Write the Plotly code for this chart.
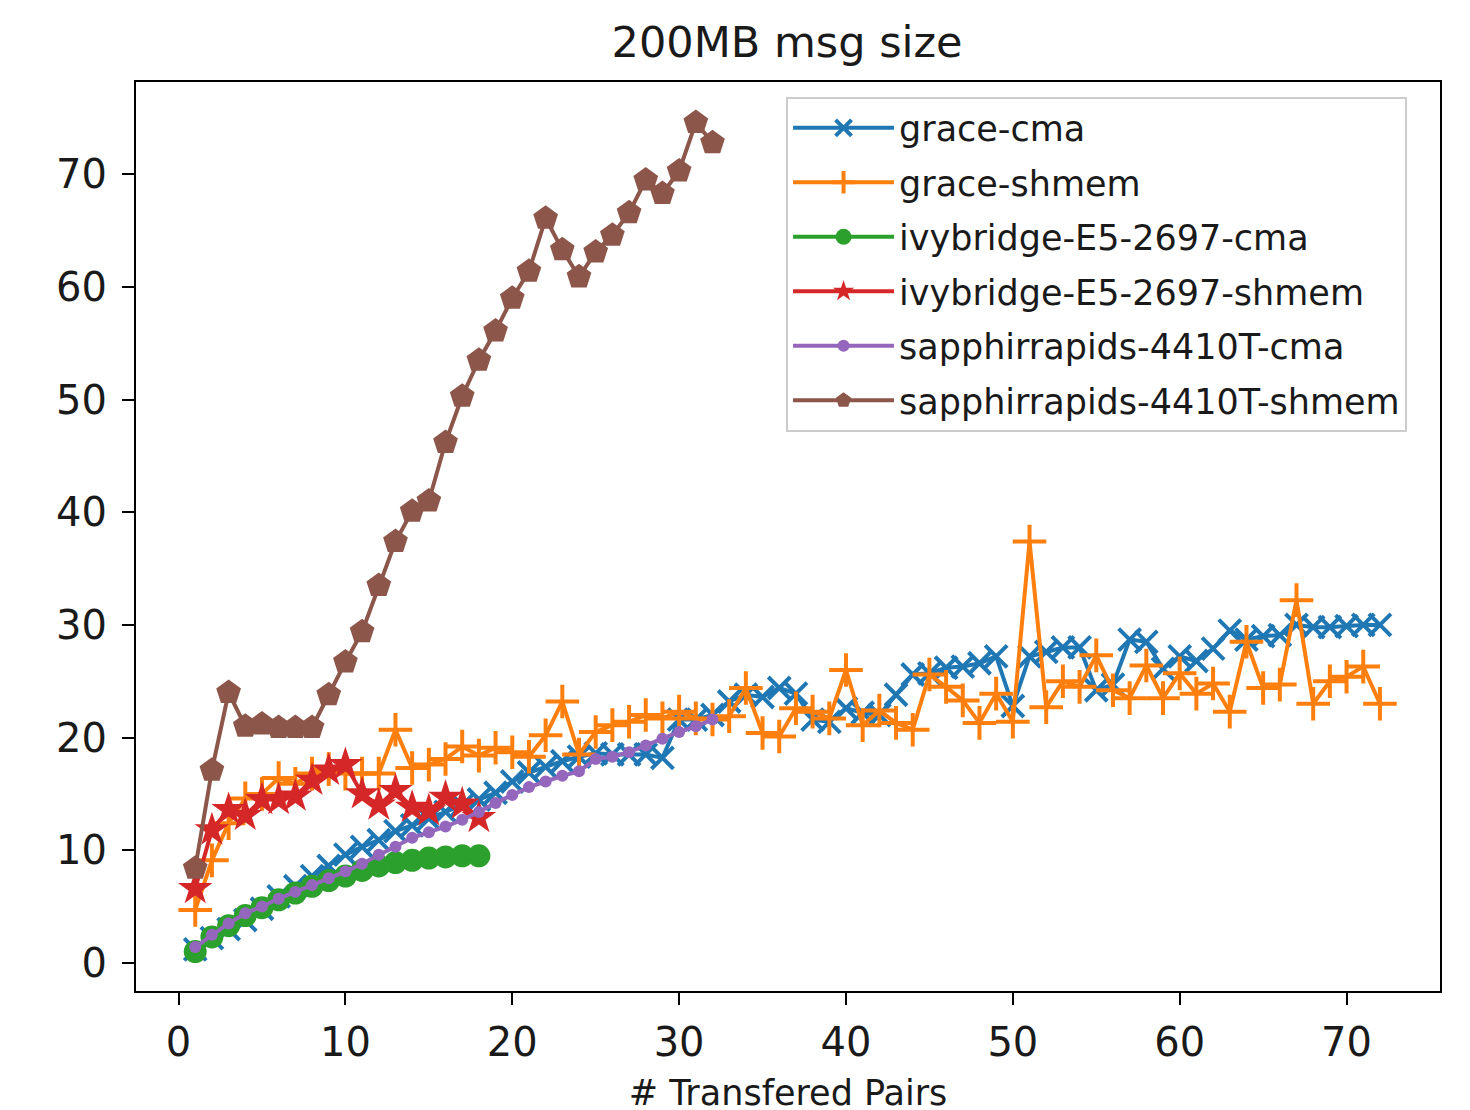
import plotly.graph_objects as go

# ---- data ----
grace_cma = [1.2, 2.2, 3.0, 3.8, 4.8, 5.9, 6.8, 7.7, 8.6, 9.6,
             10.3, 10.9, 11.7, 12.2, 12.8, 13.4, 14.0, 14.5, 15.1, 16.1,
             16.9, 17.4, 17.9, 18.3, 18.6, 18.5, 18.5, 18.5, 18.2, 21.6,
             21.6, 22.0, 23.2, 23.8, 23.6, 24.4, 23.9, 21.6, 21.4, 22.6,
             22.2, 22.0, 23.8, 25.6, 25.7, 26.2, 26.3, 26.6, 27.2, 22.8,
             27.2, 27.6, 28.0, 28.0, 24.2, 24.7, 28.7, 28.5, 26.1, 27.2,
             26.8, 27.9, 29.5, 28.7, 29.0, 29.1, 30.0, 29.8, 29.8, 29.9,
             30.0, 30.0]
grace_shmem = [4.7, 9.1, 12.4, 14.6, 15.0, 16.4, 15.9, 16.8, 17.2, 16.8,
               16.8, 16.8, 20.7, 17.3, 17.6, 18.1, 19.2, 18.4, 19.1, 18.7,
               18.3, 20.2, 23.2, 18.5, 20.5, 21.1, 21.4, 22.0, 21.7, 22.3,
               21.7, 21.6, 21.9, 24.4, 20.4, 20.1, 22.6, 22.3, 21.7, 26.0,
               21.1, 22.4, 21.3, 20.7, 25.6, 24.5, 23.3, 21.3, 23.9, 21.4,
               37.4, 22.7, 25.0, 24.5, 27.3, 24.2, 23.5, 26.4, 23.5, 25.7,
               23.9, 24.8, 22.3, 28.5, 24.4, 24.7, 32.2, 23.0, 25.0, 25.4,
               26.3, 23.0]
ivy_cma = [1.0, 2.3, 3.3, 4.2, 4.9, 5.6, 6.2, 6.8, 7.3, 7.7,
           8.2, 8.6, 8.9, 9.1, 9.3, 9.4, 9.5, 9.5]
ivy_shmem = [6.6, 11.8, 13.6, 13.1, 14.5, 14.5, 14.8, 16.2, 17.1, 17.6,
             15.0, 14.0, 15.3, 13.8, 13.5, 14.7, 14.1, 12.9]
spr_cma = [1.4, 2.5, 3.5, 4.4, 5.0, 5.7, 6.3, 6.9, 7.5, 8.1,
           8.8, 9.6, 10.3, 11.1, 11.6, 12.1, 12.7, 13.4, 14.2, 14.9,
           15.6, 16.1, 16.6, 17.0, 18.1, 18.3, 18.7, 19.3, 19.9, 20.5,
           21.0, 21.6]
spr_shmem = [8.4, 17.1, 24.0, 21.0, 21.2, 20.9, 20.9, 20.9, 23.8, 26.7,
             29.4, 33.5, 37.4, 40.1, 41.0, 46.2, 50.3, 53.5, 56.1, 59.0,
             61.4, 66.1, 63.3, 60.9, 63.1, 64.6, 66.6, 69.5, 68.3, 70.3,
             74.6, 72.8]

series_names = ["grace-cma", "grace-shmem", "ivybridge-E5-2697-cma",
                "ivybridge-E5-2697-shmem", "sapphirrapids-4410T-cma",
                "sapphirrapids-4410T-shmem"]
series_values = [grace_cma, grace_shmem, ivy_cma, ivy_shmem, spr_cma, spr_shmem]
colors = ["#1f77b4", "#ff7f0e", "#2ca02c", "#d62728", "#9467bd", "#8c564b"]
symbols = ["x-thin", "cross-thin", "circle", "star", "circle", "pentagon"]
sizes = [22, 24, 23, 26, 12, 26]

title_text = "200MB msg size"
x_title = "# Transfered Pairs"
x_ticks = [0, 10, 20, 30, 40, 50, 60, 70]
y_ticks = [0, 10, 20, 30, 40, 50, 60, 70]

FONT = "DejaVu Sans"
TXT = "#1a1a1a"

fig = go.Figure()
for name, vals, c, sym, sz in zip(series_names, series_values, colors, symbols, sizes):
    xs = list(range(1, len(vals) + 1))
    thin = sym.endswith("-thin")
    fig.add_trace(go.Scatter(
        x=xs, y=vals, name=name, legendgroup=name, mode="lines+markers",
        line=dict(color=c, width=4),
        marker=dict(symbol=sym, size=sz, color=c,
                    line=dict(color=c, width=4 if thin else 0)),
    ))

fig.update_layout(
    width=1470, height=1110,
    paper_bgcolor="white", plot_bgcolor="white",
    margin=dict(l=128, r=38, t=74, b=127),
    font=dict(family=FONT, size=34, color=TXT),
    title=dict(text=title_text, x=0.530, xanchor="center",
               y=1 - 34 / 1110, yanchor="middle",
               font=dict(family=FONT, size=43, color=TXT)),
    showlegend=True,
    legend=dict(x=0.4985, xanchor="left", y=0.984, yanchor="top",
                bgcolor="rgba(255,255,255,0.85)", bordercolor="#cccccc",
                borderwidth=2, font=dict(family=FONT, size=35, color=TXT),
                itemsizing="trace", itemwidth=101, tracegroupgap=6),
)
fig.update_xaxes(
    range=[-2.55, 75.6], tickvals=x_ticks, ticktext=[str(v) for v in x_ticks],
    tickfont=dict(family=FONT, size=40, color=TXT),
    showgrid=False, zeroline=False, showline=True, linecolor="black",
    linewidth=2, mirror=True, ticks="outside", ticklen=12, tickwidth=2,
    tickcolor="black", ticklabelstandoff=3,
    title=dict(text=x_title, standoff=16, font=dict(family=FONT, size=35, color=TXT)),
)
fig.update_yaxes(
    range=[-2.5, 78.2], tickvals=y_ticks, ticktext=[str(v) for v in y_ticks],
    tickfont=dict(family=FONT, size=40, color=TXT),
    showgrid=False, zeroline=False, showline=True, linecolor="black",
    linewidth=2, mirror=True, ticks="outside", ticklen=12, tickwidth=2,
    tickcolor="black", ticklabelstandoff=7,
)

fig.write_html("out.html")
